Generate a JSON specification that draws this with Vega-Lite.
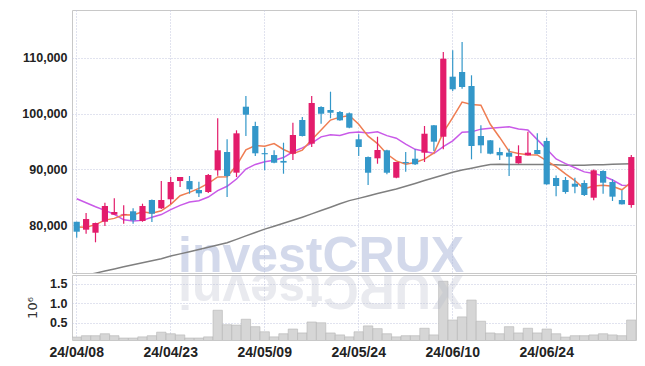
{
  "$schema": "https://vega.github.io/schema/vega-lite/v6.json",
  "background": "white",
  "padding": {"left": 21, "top": 9, "right": 10, "bottom": 5},
  "spacing": 0,
  "config": {
    "view": {"stroke": "#c8c8c8", "strokeWidth": 1},
    "axis": {
      "labelFont": "Liberation Sans, Arial, sans-serif",
      "labelFontWeight": "bold",
      "labelColor": "#222222",
      "labelFontSize": 12.5,
      "gridColor": "#c3c6df",
      "gridDash": [1, 2],
      "gridWidth": 1,
      "ticks": false,
      "domain": false
    }
  },
  "datasets": {
    "p": [
      {"d":"24/04/08","o":80600,"h":80600,"l":77750,"c":78820,"v":135000,"ma5":79660,"ma10":84730,"ma60":70650},
      {"d":"24/04/09","o":79180,"h":82170,"l":78460,"c":81090,"v":170000,"ma5":79600,"ma10":84020,"ma60":71030},
      {"d":"24/04/11","o":78640,"h":80450,"l":76920,"c":80380,"v":170000,"ma5":80100,"ma10":83300,"ma60":71390},
      {"d":"24/04/12","o":80610,"h":84020,"l":79840,"c":83430,"v":220000,"ma5":80900,"ma10":82650,"ma60":71780},
      {"d":"24/04/15","o":81870,"h":84800,"l":81870,"c":82350,"v":170000,"ma5":81210,"ma10":81940,"ma60":72150},
      {"d":"24/04/16","o":81900,"h":83550,"l":80250,"c":82000,"v":110000,"ma5":81850,"ma10":80950,"ma60":72530},
      {"d":"24/04/17","o":82480,"h":83010,"l":80250,"c":80860,"v":110000,"ma5":81800,"ma10":80740,"ma60":72890},
      {"d":"24/04/18","o":80740,"h":83840,"l":80600,"c":83430,"v":140000,"ma5":82410,"ma10":80850,"ma60":73250},
      {"d":"24/04/19","o":84500,"h":84600,"l":80560,"c":82050,"v":170000,"ma5":82140,"ma10":81400,"ma60":73620},
      {"d":"24/04/22","o":83010,"h":87900,"l":82900,"c":84500,"v":260000,"ma5":82570,"ma10":81890,"ma60":73980},
      {"d":"24/04/23","o":84630,"h":88620,"l":83780,"c":87730,"v":220000,"ma5":83710,"ma10":82780,"ma60":74450},
      {"d":"24/04/24","o":87900,"h":88620,"l":86830,"c":88620,"v":190000,"ma5":85270,"ma10":83540,"ma60":74850},
      {"d":"24/04/25","o":87900,"h":88800,"l":85630,"c":86420,"v":110000,"ma5":85860,"ma10":84140,"ma60":75240},
      {"d":"24/04/26","o":86290,"h":87780,"l":85040,"c":85700,"v":110000,"ma5":86590,"ma10":84370,"ma60":75630},
      {"d":"24/04/29","o":85930,"h":89160,"l":85750,"c":88980,"v":140000,"ma5":87490,"ma10":85030,"ma60":76030},
      {"d":"24/04/30","o":89820,"h":99140,"l":88850,"c":93410,"v":820000,"ma5":88630,"ma10":86170,"ma60":76440},
      {"d":"24/05/02","o":93100,"h":95380,"l":85040,"c":88800,"v":450000,"ma5":88660,"ma10":86960,"ma60":76830},
      {"d":"24/05/03","o":89400,"h":96990,"l":88620,"c":96450,"v":440000,"ma5":90670,"ma10":88270,"ma60":77440},
      {"d":"24/05/07","o":101220,"h":103140,"l":95970,"c":99790,"v":590000,"ma5":93490,"ma10":90040,"ma60":78070},
      {"d":"24/05/08","o":97760,"h":98530,"l":92380,"c":92870,"v":400000,"ma5":94260,"ma10":90880,"ma60":78690},
      {"d":"24/05/09","o":92900,"h":93870,"l":89820,"c":92700,"v":270000,"ma5":94120,"ma10":91370,"ma60":79280},
      {"d":"24/05/10","o":92560,"h":93410,"l":91100,"c":91180,"v":140000,"ma5":94600,"ma10":91630,"ma60":79800},
      {"d":"24/05/13","o":91500,"h":94770,"l":89210,"c":91200,"v":220000,"ma5":93550,"ma10":92110,"ma60":80340},
      {"d":"24/05/14","o":92800,"h":98350,"l":91670,"c":96150,"v":340000,"ma5":92820,"ma10":93150,"ma60":80860},
      {"d":"24/05/16","o":98840,"h":99370,"l":95880,"c":95970,"v":240000,"ma5":93440,"ma10":93850,"ma60":81420},
      {"d":"24/05/17","o":94590,"h":103140,"l":94000,"c":101880,"v":520000,"ma5":95280,"ma10":94700,"ma60":82010},
      {"d":"24/05/20","o":101170,"h":101290,"l":98170,"c":99960,"v":500000,"ma5":97030,"ma10":95820,"ma60":82620},
      {"d":"24/05/21","o":100630,"h":103910,"l":99140,"c":100140,"v":240000,"ma5":98820,"ma10":96180,"ma60":83210},
      {"d":"24/05/22","o":100270,"h":100450,"l":98700,"c":98780,"v":190000,"ma5":99350,"ma10":96080,"ma60":83820},
      {"d":"24/05/23","o":100040,"h":100180,"l":97350,"c":97460,"v":140000,"ma5":99640,"ma10":96540,"ma60":84390},
      {"d":"24/05/24","o":95380,"h":96270,"l":92380,"c":94000,"v":270000,"ma5":98070,"ma10":96670,"ma60":84790},
      {"d":"24/05/27","o":92200,"h":92300,"l":87190,"c":89390,"v":420000,"ma5":95950,"ma10":96490,"ma60":85220},
      {"d":"24/05/28","o":91970,"h":95840,"l":91000,"c":93460,"v":350000,"ma5":94620,"ma10":96720,"ma60":85650},
      {"d":"24/05/29","o":93410,"h":93500,"l":89100,"c":89390,"v":220000,"ma5":92740,"ma10":96040,"ma60":86060},
      {"d":"24/05/30","o":88500,"h":91310,"l":88390,"c":91310,"v":140000,"ma5":91510,"ma10":95580,"ma60":86490},
      {"d":"24/05/31","o":91300,"h":93100,"l":89580,"c":91100,"v":170000,"ma5":90930,"ma10":94500,"ma60":86960},
      {"d":"24/06/03","o":91900,"h":93590,"l":90780,"c":90900,"v":170000,"ma5":91230,"ma10":93590,"ma60":87460},
      {"d":"24/06/04","o":92980,"h":97760,"l":91310,"c":96380,"v":360000,"ma5":91820,"ma10":93220,"ma60":87980},
      {"d":"24/06/05","o":97890,"h":97950,"l":93280,"c":94950,"v":190000,"ma5":92930,"ma10":92830,"ma60":88480},
      {"d":"24/06/07","o":95840,"h":111020,"l":93590,"c":109820,"v":1560000,"ma5":96630,"ma10":94070,"ma60":88980},
      {"d":"24/06/10","o":106600,"h":111330,"l":104030,"c":104340,"v":570000,"ma5":99280,"ma10":95100,"ma60":89470},
      {"d":"24/06/11","o":107440,"h":112810,"l":104440,"c":104750,"v":650000,"ma5":102050,"ma10":96640,"ma60":89860},
      {"d":"24/06/12","o":104930,"h":106850,"l":91790,"c":94180,"v":1080000,"ma5":101610,"ma10":96710,"ma60":90200},
      {"d":"24/06/13","o":95970,"h":97890,"l":92870,"c":94300,"v":540000,"ma5":101480,"ma10":97200,"ma60":90540},
      {"d":"24/06/14","o":95200,"h":95250,"l":92700,"c":92800,"v":240000,"ma5":98070,"ma10":97350,"ma60":90860},
      {"d":"24/06/17","o":93100,"h":93870,"l":91670,"c":92510,"v":220000,"ma5":95710,"ma10":97490,"ma60":90900},
      {"d":"24/06/18","o":92980,"h":93690,"l":88800,"c":92260,"v":400000,"ma5":93210,"ma10":97630,"ma60":90880},
      {"d":"24/06/19","o":91080,"h":94300,"l":91000,"c":92380,"v":240000,"ma5":92850,"ma10":97230,"ma60":90860},
      {"d":"24/06/20","o":92510,"h":96740,"l":92470,"c":92980,"v":360000,"ma5":92590,"ma10":97030,"ma60":90860},
      {"d":"24/06/21","o":93460,"h":96450,"l":92700,"c":92740,"v":240000,"ma5":92570,"ma10":95320,"ma60":90880},
      {"d":"24/06/24","o":95070,"h":95660,"l":87250,"c":87310,"v":340000,"ma5":91530,"ma10":93620,"ma60":90860},
      {"d":"24/06/25","o":88440,"h":88900,"l":85160,"c":87010,"v":220000,"ma5":90480,"ma10":91850,"ma60":90810},
      {"d":"24/06/26","o":88090,"h":88620,"l":85630,"c":85930,"v":135000,"ma5":89190,"ma10":91020,"ma60":90750},
      {"d":"24/06/27","o":87420,"h":88500,"l":85700,"c":86880,"v":170000,"ma5":87970,"ma10":90280,"ma60":90720},
      {"d":"24/06/28","o":87550,"h":88030,"l":85220,"c":85400,"v":170000,"ma5":86510,"ma10":89540,"ma60":90750},
      {"d":"24/07/01","o":84910,"h":89950,"l":84450,"c":89820,"v":190000,"ma5":87010,"ma10":89270,"ma60":90810},
      {"d":"24/07/02","o":89700,"h":89850,"l":85630,"c":87600,"v":220000,"ma5":87130,"ma10":88810,"ma60":90840},
      {"d":"24/07/03","o":87730,"h":88210,"l":84320,"c":85100,"v":190000,"ma5":86960,"ma10":88080,"ma60":90900},
      {"d":"24/07/04","o":84500,"h":86240,"l":83700,"c":83730,"v":170000,"ma5":86330,"ma10":87150,"ma60":90950},
      {"d":"24/07/05","o":83600,"h":92560,"l":83120,"c":92200,"v":570000,"ma5":87690,"ma10":87100,"ma60":91000}
    ],
    "wm": [{"t": "investCRUX", "r": "XURCtsevni"}]
  },
  "vconcat": [
    {
      "width": 564,
      "height": 263,
      "data": {"name": "p"},
      "encoding": {
        "x": {
          "field": "d", "type": "ordinal",
          "scale": {"paddingInner": 0, "paddingOuter": 0},
          "axis": {"labels": false, "ticks": false, "domain": false, "grid": true, "title": null, "bandPosition": 0.5,
                   "values": ["24/04/08","24/04/23","24/05/09","24/05/24","24/06/10","24/06/24"]}
        }
      },
      "layer": [
        {
          "data": {"name": "wm"},
          "mark": {"type": "text", "font": "Liberation Sans, Arial, sans-serif", "fontWeight": "bold", "fontSize": 50, "align": "center", "baseline": "alphabetic", "fill": "#a9b5d8", "opacity": 0.5, "clip": true},
          "encoding": {
            "x": {"datum": "24/05/20", "type": "ordinal"},
            "y": {"datum": 71600, "type": "quantitative", "scale": {"domain": [71420, 118550], "zero": false, "nice": false},
                  "axis": {"values": [80000, 90000, 100000, 110000], "format": ",d", "title": null, "grid": true, "labelPadding": 5}},
            "text": {"field": "t"}
          }
        },
        {
          "mark": {"type": "line", "color": "#7f7f7f", "strokeWidth": 1.5, "clip": true},
          "encoding": {
            "y": {"field": "ma60", "type": "quantitative", "scale": {"domain": [71420, 118550], "zero": false, "nice": false},
                  "axis": {"values": [80000, 90000, 100000, 110000], "format": ",d", "title": null, "grid": true, "labelPadding": 5}}
          }
        },
        {
          "mark": {"type": "line", "color": "#c95ae8", "strokeWidth": 1.5, "clip": true},
          "encoding": {
            "y": {"field": "ma10", "type": "quantitative", "scale": {"domain": [71420, 118550], "zero": false, "nice": false},
                  "axis": {"values": [80000, 90000, 100000, 110000], "format": ",d", "title": null, "grid": true, "labelPadding": 5}}
          }
        },
        {
          "mark": {"type": "line", "color": "#ef7d52", "strokeWidth": 1.5, "clip": true},
          "encoding": {
            "y": {"field": "ma5", "type": "quantitative", "scale": {"domain": [71420, 118550], "zero": false, "nice": false},
                  "axis": {"values": [80000, 90000, 100000, 110000], "format": ",d", "title": null, "grid": true, "labelPadding": 5}}
          }
        },
        {
          "mark": {"type": "rule", "strokeWidth": 1.2, "clip": true},
          "encoding": {
            "y": {"field": "l", "type": "quantitative", "scale": {"domain": [71420, 118550], "zero": false, "nice": false},
                  "axis": {"values": [80000, 90000, 100000, 110000], "format": ",d", "title": null, "grid": true, "labelPadding": 5}},
            "y2": {"field": "h"},
            "color": {"condition": {"test": "datum.c >= datum.o", "value": "#e31c6b"}, "value": "#3397c9"}
          }
        },
        {
          "mark": {"type": "bar", "width": {"band": 0.66}, "clip": true},
          "encoding": {
            "y": {"field": "o", "type": "quantitative", "scale": {"domain": [71420, 118550], "zero": false, "nice": false},
                  "axis": {"values": [80000, 90000, 100000, 110000], "format": ",d", "title": null, "grid": true, "labelPadding": 5}},
            "y2": {"field": "c"},
            "color": {"condition": {"test": "datum.c >= datum.o", "value": "#e31c6b"}, "value": "#3397c9"}
          }
        }
      ]
    },
    {
      "width": 564,
      "height": 65,
      "data": {"name": "p"},
      "encoding": {
        "x": {
          "field": "d", "type": "ordinal",
          "scale": {"paddingInner": 0, "paddingOuter": 0},
          "axis": {"labelFontSize": 14, "labelAngle": 0, "labelPadding": 5, "ticks": false, "domain": false, "grid": true, "title": null, "bandPosition": 0.5,
                   "values": ["24/04/08","24/04/23","24/05/09","24/05/24","24/06/10","24/06/24"]}
        }
      },
      "layer": [
        {
          "mark": {"type": "bar", "width": {"band": 1}, "fill": "#d6d6d6", "stroke": "#b5b5b5", "strokeWidth": 0.6, "clip": true},
          "encoding": {
            "y": {"field": "v", "type": "quantitative", "scale": {"domain": [60000, 1720000], "zero": false, "nice": false},
                  "axis": {"values": [500000, 1000000, 1500000], "labelExpr": "format(datum.value / 1000000, '.1f')", "title": "10⁶",
                           "titleFont": "DejaVu Sans", "titleFontWeight": "normal", "titleFontSize": 13, "titleColor": "#333333", "titlePadding": 10, "grid": true, "labelPadding": 5}}
          }
        },
        {
          "data": {"name": "wm"},
          "mark": {"type": "text", "font": "Liberation Sans, Arial, sans-serif", "fontWeight": "bold", "fontSize": 50, "align": "center", "baseline": "alphabetic", "angle": 180, "fill": "#b8bccc", "opacity": 0.3, "clip": true},
          "encoding": {
            "x": {"datum": "24/05/20", "type": "ordinal"},
            "y": {"datum": 1740000, "type": "quantitative", "scale": {"domain": [60000, 1720000], "zero": false, "nice": false},
                  "axis": {"values": [500000, 1000000, 1500000], "labelExpr": "format(datum.value / 1000000, '.1f')", "title": "10⁶",
                           "titleFont": "DejaVu Sans", "titleFontWeight": "normal", "titleFontSize": 13, "titleColor": "#333333", "titlePadding": 10, "grid": true, "labelPadding": 5}},
            "text": {"field": "r"}
          }
        }
      ]
    }
  ]
}
